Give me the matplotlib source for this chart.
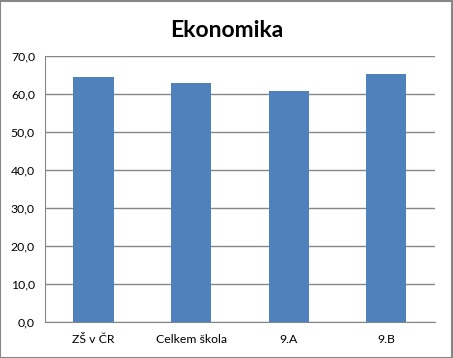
import matplotlib
matplotlib.use("Agg")
import matplotlib.pyplot as plt
from matplotlib.patches import Rectangle

plt.rcParams['font.family'] = ['Lato', 'DejaVu Sans']

kategorie = ['ZŠ v ČR', 'Celkem škola', '9.A', '9.B']
hodnoty = [64.5, 62.9, 60.8, 65.3]
y_ticks = [0, 10, 20, 30, 40, 50, 60, 70]

fig = plt.figure(figsize=(4.53, 3.58), dpi=100)
ax = fig.add_axes([0.0987, 0.1006, 0.8617, 0.743])

x = range(len(kategorie))
ax.bar(x, hodnoty, width=0.41, color='#4F81BD', zorder=3)

ax.set_xlim(-0.5, len(kategorie) - 0.5)
ax.set_ylim(0, 70)
ax.set_yticks(y_ticks)
ax.set_yticklabels([f'{v:.1f}'.replace('.', ',') for v in y_ticks], fontsize=8.8)
ax.set_xticks(list(x))
ax.set_xticklabels(kategorie, fontsize=8.8)
ax.tick_params(axis='both', length=0, pad=7)
ax.tick_params(axis='x', pad=9)

ax.grid(axis='y', color='#868686', linewidth=1, zorder=0)
for side in ['top', 'right']:
    ax.spines[side].set_visible(False)
ax.spines['left'].set_color('#868686')
ax.spines['bottom'].set_color('#868686')

fig.text(0.5, 0.915, 'Ekonomika', ha='center', va='center', fontsize=16.5, fontweight='bold')

fig.patches.append(Rectangle((0.001, 0.001), 0.997, 0.997, transform=fig.transFigure,
                             fill=False, edgecolor='#868686', linewidth=1.5))

fig.savefig('out.png', dpi=100)
